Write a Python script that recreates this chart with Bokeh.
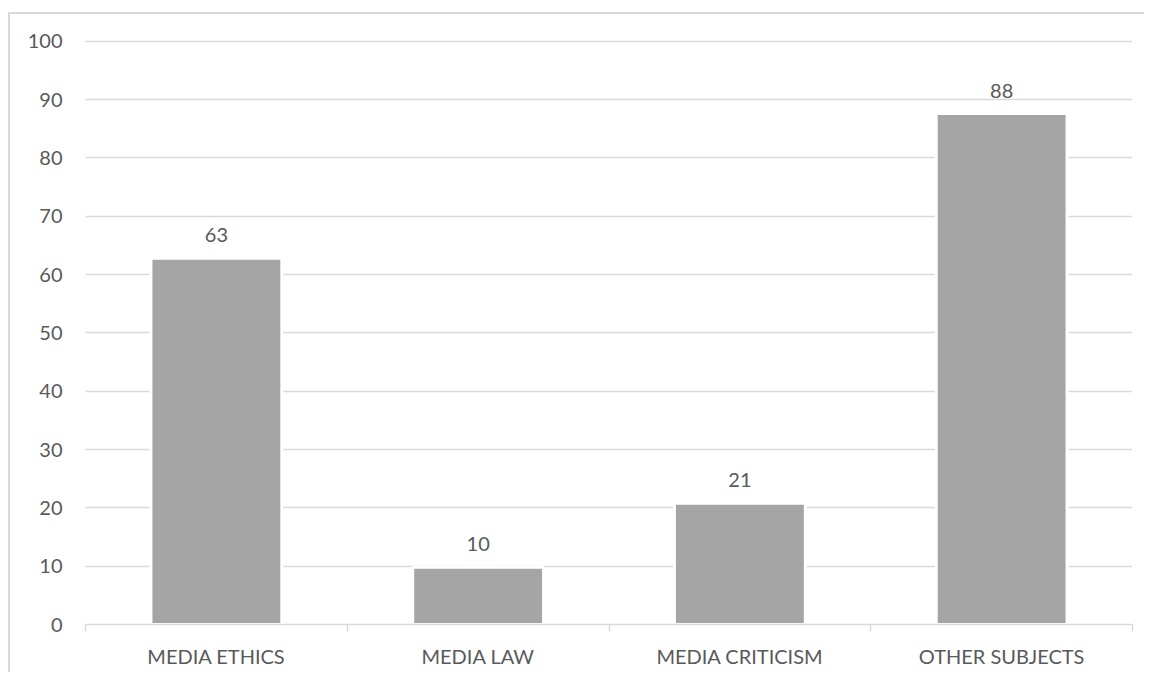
from bokeh.plotting import figure
from bokeh.models import ColumnDataSource, FixedTicker, Range1d
from bokeh.core.properties import value
from bokeh.embed import file_html
from bokeh.resources import INLINE

categories = ["MEDIA ETHICS", "MEDIA LAW", "MEDIA CRITICISM", "OTHER SUBJECTS"]
values = [62.8, 9.8, 20.8, 87.6]
y_ticks = [0, 10, 20, 30, 40, 50, 60, 70, 80, 90, 100]

FONT = "Lato"
TEXT = "#595959"
GRID = "#D9D9D9"
FS = "20px"

xs = [i + 0.5 for i in range(len(categories))]
labels = ["%.0f" % v for v in values]
src = ColumnDataSource(dict(x=xs, top=values, label=labels))

p = figure(width=1136, height=660, output_backend="svg", toolbar_location=None,
           x_range=Range1d(0, len(categories)), y_range=Range1d(0, 100.3),
           min_border_left=75, min_border_right=14, min_border_top=25, min_border_bottom=50)
p.styles = {"border-left": f"2px solid {GRID}", "border-top": f"2px solid {GRID}",
            "margin-left": "8px", "margin-top": "12px"}
p.outline_line_color = None
p.background_fill_color = "white"

p.vbar(x="x", top="top", width=0.5, source=src, fill_color="#A5A5A5",
       line_color="white", line_width=3)
p.text(x="x", y="top", text="label", source=src, text_align="center",
       text_baseline="bottom", y_offset=-16, text_color=TEXT,
       text_font=value(FONT), text_font_size=FS)

# y axis
p.yaxis.ticker = FixedTicker(ticks=y_ticks)
p.yaxis.axis_line_color = None
p.yaxis.major_tick_line_color = None
p.yaxis.minor_tick_line_color = None
p.yaxis.major_label_text_color = TEXT
p.yaxis.major_label_text_font = FONT
p.yaxis.major_label_text_font_size = FS
p.yaxis.major_label_standoff = 17
p.ygrid.grid_line_color = GRID
p.ygrid.grid_line_width = 1.5
p.xgrid.grid_line_color = None

# x axis
p.xaxis.ticker = FixedTicker(ticks=xs, minor_ticks=list(range(len(categories) + 1)))
p.xaxis.major_label_overrides = {x: c for x, c in zip(xs, categories)}
p.xaxis.axis_line_color = GRID
p.xaxis.axis_line_width = 1.5
p.xaxis.major_tick_line_color = None
p.xaxis.minor_tick_line_color = GRID
p.xaxis.minor_tick_line_width = 1.5
p.xaxis.minor_tick_in = 0
p.xaxis.minor_tick_out = 7
p.xaxis.major_label_text_color = TEXT
p.xaxis.major_label_text_font = FONT
p.xaxis.major_label_text_font_size = FS
p.xaxis.major_label_standoff = 12

open("out.html", "w").write(file_html(p, INLINE))
